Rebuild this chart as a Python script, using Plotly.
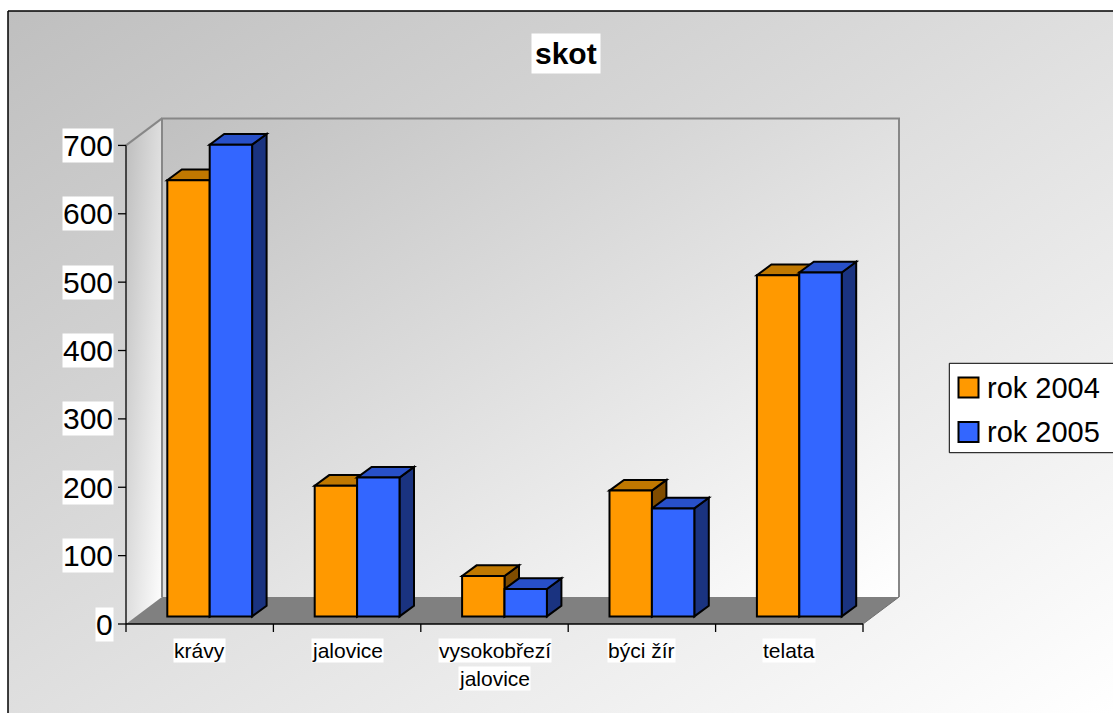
import base64
import plotly.graph_objects as go

# ---------------- data ----------------
categories = ["krávy", "jalovice", "vysokobřezí<br>jalovice", "býci žír", "telata"]
series_names = ["rok 2004", "rok 2005"]
rok_2004 = [638, 191, 59, 184, 499]
rok_2005 = [690, 203, 40, 158, 503]
y_ticks = [0, 100, 200, 300, 400, 500, 600, 700]
title_text = "skot"

# ---------------- styling ----------------
W, H = 1113, 713
FONT = "Liberation Sans, Arial, sans-serif"
# front / top / side colours of each series
FACE_COLORS = [
    ("#FF9900", "#C07800", "#7F4C00"),
    ("#3366FF", "#2850C8", "#1A3380"),
]
WALL_LINE = "#878787"
FLOOR_FILL = "#808080"

# ---------------- oblique projection (pixels) ----------------
CAT_PX = 147.4          # width of one category on the front plane
UNIT_PX = 0.6837        # pixels per value unit
FRONT_LEFT_PX = 126     # x of the value axis
FRONT_ZERO_PX = 624     # y of the zero line on the front plane
BAR_SHIFT = (10, 7.6)   # bar fronts sit this far behind the front plane
BAR_DEPTH = (14.5, 10.7)
WALL_DEPTH = (36, 27)
BAR_W_PX = 42.4
TICK_PX = 8

# data coordinates live on the plane of the bar fronts
X0_PX = FRONT_LEFT_PX + BAR_SHIFT[0]
Y0_PX = FRONT_ZERO_PX - BAR_SHIFT[1]


def ux(px):
    return px / CAT_PX


def uy(px):
    return px / UNIT_PX


def fx(c):  # front plane x
    return c - ux(BAR_SHIFT[0])


def fy(v):  # front plane y
    return v - uy(BAR_SHIFT[1])


def bx(c):  # back plane x
    return fx(c) + ux(WALL_DEPTH[0])


def by(v):  # back plane y
    return fy(v) + uy(WALL_DEPTH[1])


def to_px(x, y):
    return X0_PX + x * CAT_PX, Y0_PX - y * UNIT_PX


def paper(xpx, ypx):
    return xpx / W, 1 - ypx / H


def gradient_uri(w, h, stops, points=None):
    poly = points or [(0, 0), (w, 0), (w, h), (0, h)]
    pts = " ".join(f"{x:.2f},{y:.2f}" for x, y in poly)
    stop_xml = "".join(f'<stop offset="{o}" stop-color="{c}"/>' for o, c in stops)
    svg = (
        f'<svg xmlns="http://www.w3.org/2000/svg" width="{w:.2f}" height="{h:.2f}" '
        f'viewBox="0 0 {w:.2f} {h:.2f}" preserveAspectRatio="none">'
        f'<defs><linearGradient id="g" x1="0" y1="0" x2="1" y2="1">{stop_xml}</linearGradient></defs>'
        f'<polygon points="{pts}" fill="url(#g)"/></svg>'
    )
    return "data:image/svg+xml;base64," + base64.b64encode(svg.encode()).decode()


def image_at(src, left, top, w, h):
    px0, py0 = paper(left, top)
    return dict(source=src, xref="paper", yref="paper", x=px0, y=py0,
                sizex=w / W, sizey=h / H, xanchor="left", yanchor="top",
                sizing="stretch", layer="below")


def path(points):
    return "M " + " L ".join(f"{x:.5f},{y:.5f}" for x, y in points) + " Z"


n = len(categories)
y_max = y_ticks[-1]
bar_w = ux(BAR_W_PX)
ddx, ddy = ux(BAR_DEPTH[0]), uy(BAR_DEPTH[1])
series_values = [rok_2004, rok_2005]
centers = [i + 0.5 for i in range(n)]

images = []
shapes = []
annotations = []

# chart area background with frame
CHART_LEFT, CHART_TOP = 8, 11
images.append(image_at(gradient_uri(W - CHART_LEFT, H - CHART_TOP,
                                    [(0, "#bfbfbf"), (1, "#ffffff")]),
                       CHART_LEFT, CHART_TOP, W - CHART_LEFT, H - CHART_TOP))
shapes.append(dict(type="line", xref="paper", yref="paper",
                   x0=paper(CHART_LEFT, 0)[0], x1=paper(CHART_LEFT, 0)[0],
                   y0=paper(0, CHART_TOP)[1], y1=0,
                   line=dict(color="black", width=1.5)))
shapes.append(dict(type="line", xref="paper", yref="paper",
                   x0=paper(CHART_LEFT, 0)[0], x1=1,
                   y0=paper(0, CHART_TOP)[1], y1=paper(0, CHART_TOP)[1],
                   line=dict(color="black", width=1.5)))

# back wall gradient
bl_px = to_px(bx(0), by(y_max))
br_px = to_px(bx(n), by(0))
images.append(image_at(gradient_uri(br_px[0] - bl_px[0], br_px[1] - bl_px[1],
                                    [(0, "#c0c0c0"), (1, "#ffffff")]),
                       bl_px[0], bl_px[1], br_px[0] - bl_px[0], br_px[1] - bl_px[1]))

# side wall gradient (parallelogram)
side_pts = [to_px(fx(0), fy(0)), to_px(bx(0), by(0)),
            to_px(bx(0), by(y_max)), to_px(fx(0), fy(y_max))]
sx0 = min(p[0] for p in side_pts)
sy0 = min(p[1] for p in side_pts)
sw = max(p[0] for p in side_pts) - sx0
sh = max(p[1] for p in side_pts) - sy0
images.append(image_at(gradient_uri(sw, sh, [(0, "#bdbdbd"), (1, "#ffffff")],
                                    [(p[0] - sx0, p[1] - sy0) for p in side_pts]),
                       sx0, sy0, sw, sh))

# floor
shapes.append(dict(type="path", xref="x", yref="y", layer="below",
                   path=path([(fx(0), fy(0)), (fx(n), fy(0)), (bx(n), by(0)), (bx(0), by(0))]),
                   fillcolor=FLOOR_FILL, line=dict(width=0)))

# wall outlines
shapes.append(dict(type="path", xref="x", yref="y", layer="below",
                   path=f"M {bx(0)},{by(0)} L {bx(0)},{by(y_max)} L {bx(n)},{by(y_max)} L {bx(n)},{by(0)}",
                   line=dict(color=WALL_LINE, width=2)))
shapes.append(dict(type="line", xref="x", yref="y", layer="below",
                   x0=fx(0), y0=fy(y_max), x1=bx(0), y1=by(y_max),
                   line=dict(color=WALL_LINE, width=2)))
shapes.append(dict(type="line", xref="x", yref="y", layer="below",
                   x0=fx(n), y0=fy(0), x1=bx(n), y1=by(0),
                   line=dict(color="#6e6e6e", width=1)))

# front axes
AX = dict(color="black", width=1.3)
shapes.append(dict(type="line", xref="x", yref="y", layer="below",
                   x0=fx(0), y0=fy(0), x1=fx(n), y1=fy(0), line=AX))
shapes.append(dict(type="line", xref="x", yref="y", layer="below",
                   x0=fx(0), y0=fy(0), x1=fx(0), y1=fy(y_max), line=AX))
for k in range(n + 1):
    shapes.append(dict(type="line", xref="x", yref="y", layer="below",
                       x0=fx(k), y0=fy(0), x1=fx(k), y1=fy(0) - uy(TICK_PX), line=AX))
for v in y_ticks:
    shapes.append(dict(type="line", xref="x", yref="y", layer="below",
                       x0=fx(0) - ux(TICK_PX), y0=fy(v), x1=fx(0), y1=fy(v), line=AX))

# top and side faces of the columns
for i in range(n):
    for s, vals in enumerate(series_values):
        v = vals[i]
        xl = centers[i] + (s - 1) * bar_w
        xr = xl + bar_w
        _, top_c, side_c = FACE_COLORS[s]
        shapes.append(dict(type="path", xref="x", yref="y", layer="below",
                           path=path([(xr, 0), (xr, v), (xr + ddx, v + ddy), (xr + ddx, ddy)]),
                           fillcolor=side_c, line=dict(color="black", width=2)))
        shapes.append(dict(type="path", xref="x", yref="y", layer="below",
                           path=path([(xl, v), (xr, v), (xr + ddx, v + ddy), (xl + ddx, v + ddy)]),
                           fillcolor=top_c, line=dict(color="black", width=2)))

# front faces of the columns
fig = go.Figure()
for s, (name, vals) in enumerate(zip(series_names, series_values)):
    fig.add_trace(go.Bar(
        x=centers, y=vals, name=name, width=bar_w, offset=(s - 1) * bar_w,
        marker=dict(color=FACE_COLORS[s][0], line=dict(color="black", width=2)),
        showlegend=False,
    ))

# value axis labels
for v in y_ticks:
    annotations.append(dict(x=fx(0) - ux(12), y=fy(v), xref="x", yref="y",
                            text=str(v), showarrow=False, xanchor="right", yanchor="middle",
                            bgcolor="white", borderpad=0,
                            font=dict(family=FONT, size=30, color="black")))

# category labels, one white box per line
LINE_PX = 28
for i, cat in enumerate(categories):
    for j, line in enumerate(cat.split("<br>")):
        annotations.append(dict(x=fx(centers[i]), y=fy(0) - uy(26 + j * LINE_PX),
                                xref="x", yref="y", text=line, showarrow=False,
                                xanchor="center", yanchor="middle",
                                bgcolor="white", borderpad=0,
                                font=dict(family=FONT, size=21, color="black")))

# title
tx, ty = paper(566.3, 53.5)
annotations.append(dict(x=tx, y=ty, xref="paper", yref="paper", text=f"<b>{title_text}</b>",
                        showarrow=False, xanchor="center", yanchor="middle",
                        bgcolor="white", borderpad=3,
                        font=dict(family=FONT, size=30, color="black")))

# legend
LEG_LEFT, LEG_TOP, LEG_BOTTOM = 949.3, 363.3, 452.7
lx0, ly0 = paper(LEG_LEFT, LEG_TOP)
lx1, ly1 = paper(W + 3, LEG_BOTTOM)
shapes.append(dict(type="rect", xref="paper", yref="paper", x0=lx0, y0=ly1, x1=lx1, y1=ly0,
                   fillcolor="white", line=dict(color="black", width=1), layer="above"))
row_centers = [387.5, 432.0]
for s, name in enumerate(series_names):
    cy = row_centers[s]
    ax0, ay0 = paper(958.5, cy - 10)
    ax1, ay1 = paper(978.5, cy + 10)
    shapes.append(dict(type="rect", xref="paper", yref="paper", x0=ax0, y0=ay1, x1=ax1, y1=ay0,
                       fillcolor=FACE_COLORS[s][0], line=dict(color="black", width=2), layer="above"))
    tx, ty = paper(985.0, cy)
    annotations.append(dict(x=tx, y=ty, xref="paper", yref="paper", text=name, showarrow=False,
                            xanchor="left", yanchor="middle",
                            font=dict(family=FONT, size=29, color="black")))

fig.update_layout(
    width=W, height=H, autosize=False,
    margin=dict(l=0, r=0, t=0, b=0, pad=0),
    paper_bgcolor="white", plot_bgcolor="rgba(0,0,0,0)",
    barmode="overlay", showlegend=False,
    xaxis=dict(range=[-X0_PX / CAT_PX, (W - X0_PX) / CAT_PX], visible=False, fixedrange=True),
    yaxis=dict(range=[-(H - Y0_PX) / UNIT_PX, Y0_PX / UNIT_PX], visible=False, fixedrange=True),
    images=images, shapes=shapes, annotations=annotations,
)

fig.write_html("out.html")
